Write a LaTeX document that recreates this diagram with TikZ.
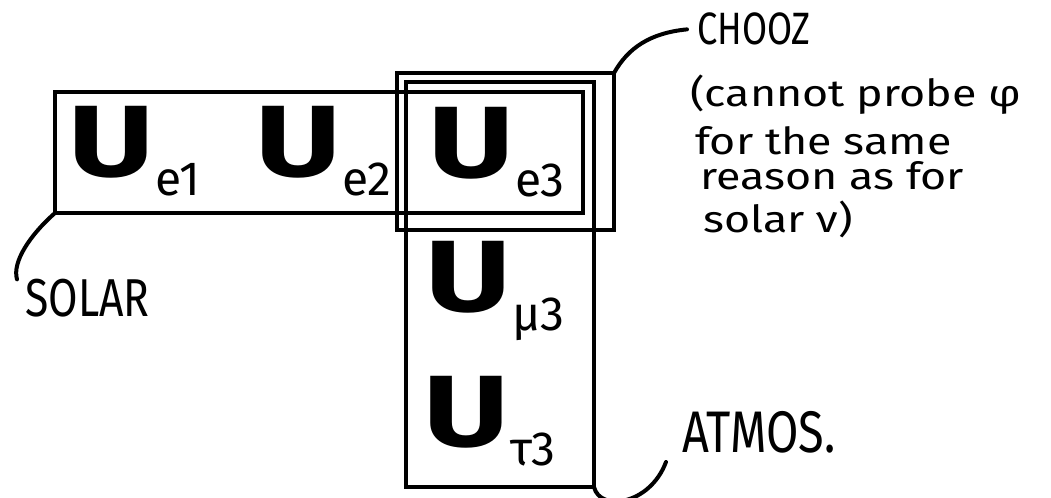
\documentclass[tikz,border=0pt]{standalone}
\usepackage{fontspec}
\setmainfont{Fira Sans}
\newfontfamily\handfont[FakeStretch=1.2]{Fira Sans}
\newfontfamily\capsfont[FakeStretch=0.8]{Fira Sans}
\newfontfamily\ufont[FakeStretch=1.3]{Fira Sans}
\newcommand{\matel}[1]{{\ufont\bfseries\fontsize{76}{76}\selectfont U}\kern1pt\raisebox{-14pt}{\fontsize{36}{36}\selectfont #1}}

\begin{document}
\begin{tikzpicture}[x=0.75pt,y=0.75pt,yscale=-1,
  frame/.style={line width=2.5pt},
  leader/.style={line width=3pt,line cap=round},
  elem/.style={inner sep=0pt,anchor=base west},
  caps/.style={inner ysep=0pt,anchor=base west,font=\capsfont\fontsize{40}{40}\selectfont},
  note/.style={inner sep=0pt,anchor=base west,font=\handfont\fontsize{28}{28}\selectfont}]
\useasboundingbox (0,0) rectangle (1051,498);

%Boxes
\coordinate (solarNW) at (55,92);
\coordinate (solarSE) at (583,213);
\coordinate (choozNW) at (397,73);
\coordinate (choozSE) at (614,230);
\coordinate (atmosNW) at (406,82);
\coordinate (atmosSE) at (594,487);
\draw [frame] (solarNW) rectangle (solarSE);
\draw [frame] (choozNW) rectangle (choozSE);
\draw [frame] (atmosNW) rectangle (atmosSE);

% Matrix elements
\node [elem] (ue1) at (68,177) {\matel{e1}};
\node [elem] (ue2) at (255,177) {\matel{e2}};
\node [elem] (ue3) at (428,178) {\matel{e3}};
\node [elem] (umu3) at (425,312) {\matel{μ3}};
\node [elem] (utau3) at (423,447) {\matel{τ3}};

% Text Node
\node [caps,inner xsep=6pt] (solar) at (17,317) {SOLAR};
% Text Node
\node [caps,inner xsep=7.5pt,font=\capsfont\fontsize{34}{34}\selectfont] (chooz) at (687,45) {CHOOZ};
% Text Node
\node [caps,inner xsep=12pt,inner ysep=6pt,font=\capsfont\fontsize{44}{44}\selectfont] (atmos) at (666,453) {ATMOS.};
% Text Node
\node [note] (note1) at (690,107) {(cannot probe φ};
\node [note] (note2) at (695,155) {for the same};
\node [note] (note3) at (700,190) {reason as for};
\node [note] (note4) at (703,233) {solar ν)};

%Leaders
\draw [leader] (solarNW |- solarSE) .. controls (30,235) and (12,262) .. (solar.north west);
\draw [leader] (choozSE |- choozNW) .. controls (628,48) and (650,33) .. (chooz.west);
\draw [leader] (atmosSE) .. controls (600,512) and (650,505) .. (atmos.south west);
\end{tikzpicture}
\end{document}
